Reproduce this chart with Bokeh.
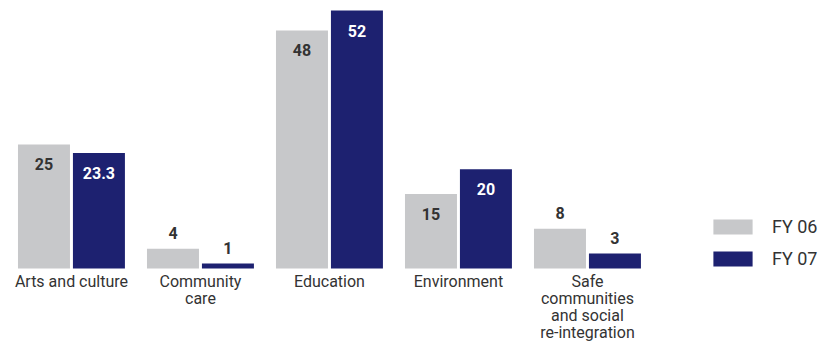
import numpy as np
from bokeh.plotting import figure
from bokeh.models import ColumnDataSource, Legend, LegendItem, Range1d
from bokeh.core.properties import value
from bokeh.embed import file_html
from bokeh.resources import INLINE

categories = ["Arts and culture", "Community\ncare", "Education", "Environment",
              "Safe\ncommunities\nand social\nre-integration"]
fy06 = [25, 4, 48, 15, 8]
fy07 = [23.3, 1, 52, 20, 3]
fy06_labels = ["25", "4", "48", "15", "8"]
fy07_labels = ["23.3", "1", "52", "20", "3"]
series_names = ["FY 06", "FY 07"]

GRAY = "#c7c8ca"
NAVY = "#1d2170"
TEXT = "#333333"
FONT = "Roboto"

idx = np.arange(len(categories), dtype=float)
off = 0.213
bw = 0.403

p = figure(width=826, height=342, output_backend="svg", toolbar_location=None,
           x_axis_location=None, y_axis_location=None,
           x_range=Range1d(-0.55, 5.853), y_range=Range1d(-14.92, 54.03),
           min_border=0, outline_line_color=None)
p.xgrid.grid_line_color = None
p.ygrid.grid_line_color = None

def label_props(vals, inside_color):
    offs, cols = [], []
    for v in vals:
        if v >= 10:
            offs.append(20)
            cols.append(inside_color)
        else:
            offs.append(-16)
            cols.append(TEXT)
    return offs, cols

o6, c6 = label_props(fy06, TEXT)
o7, c7 = label_props(fy07, "#ffffff")

s6 = ColumnDataSource(dict(x=idx - off, top=fy06, lab=fy06_labels, yo=o6, col=c6))
s7 = ColumnDataSource(dict(x=idx + off, top=fy07, lab=fy07_labels, yo=o7, col=c7))

r6 = p.vbar(x="x", top="top", bottom=0, width=bw, source=s6, fill_color=GRAY, line_color=None)
r7 = p.vbar(x="x", top="top", bottom=0, width=bw, source=s7, fill_color=NAVY, line_color=None)

for s in (s6, s7):
    p.text(x="x", y="top", text="lab", y_offset="yo", source=s, text_color="col",
           text_align="center", text_baseline="middle", text_font=value(FONT),
           text_font_size="16px", text_font_style="bold")

cs = ColumnDataSource(dict(x=idx, y=[0] * len(categories), t=categories))
p.text(x="x", y="y", text="t", source=cs, y_offset=4, text_align="center",
       text_baseline="top", text_color=TEXT, text_font=value(FONT),
       text_font_size="16px", text_line_height=0.88)

legend = Legend(items=[LegendItem(label=series_names[0], renderers=[r6]),
                       LegendItem(label=series_names[1], renderers=[r7])],
                location=(708, 73), padding=0, margin=0, spacing=11,
                glyph_width=49, glyph_height=19, label_height=19,
                label_standoff=15, label_text_font=FONT,
                label_text_font_size="18px", label_text_color=TEXT,
                border_line_color=None, background_fill_alpha=0)
p.add_layout(legend, "center")

open("out.html", "w").write(file_html(p, INLINE))
